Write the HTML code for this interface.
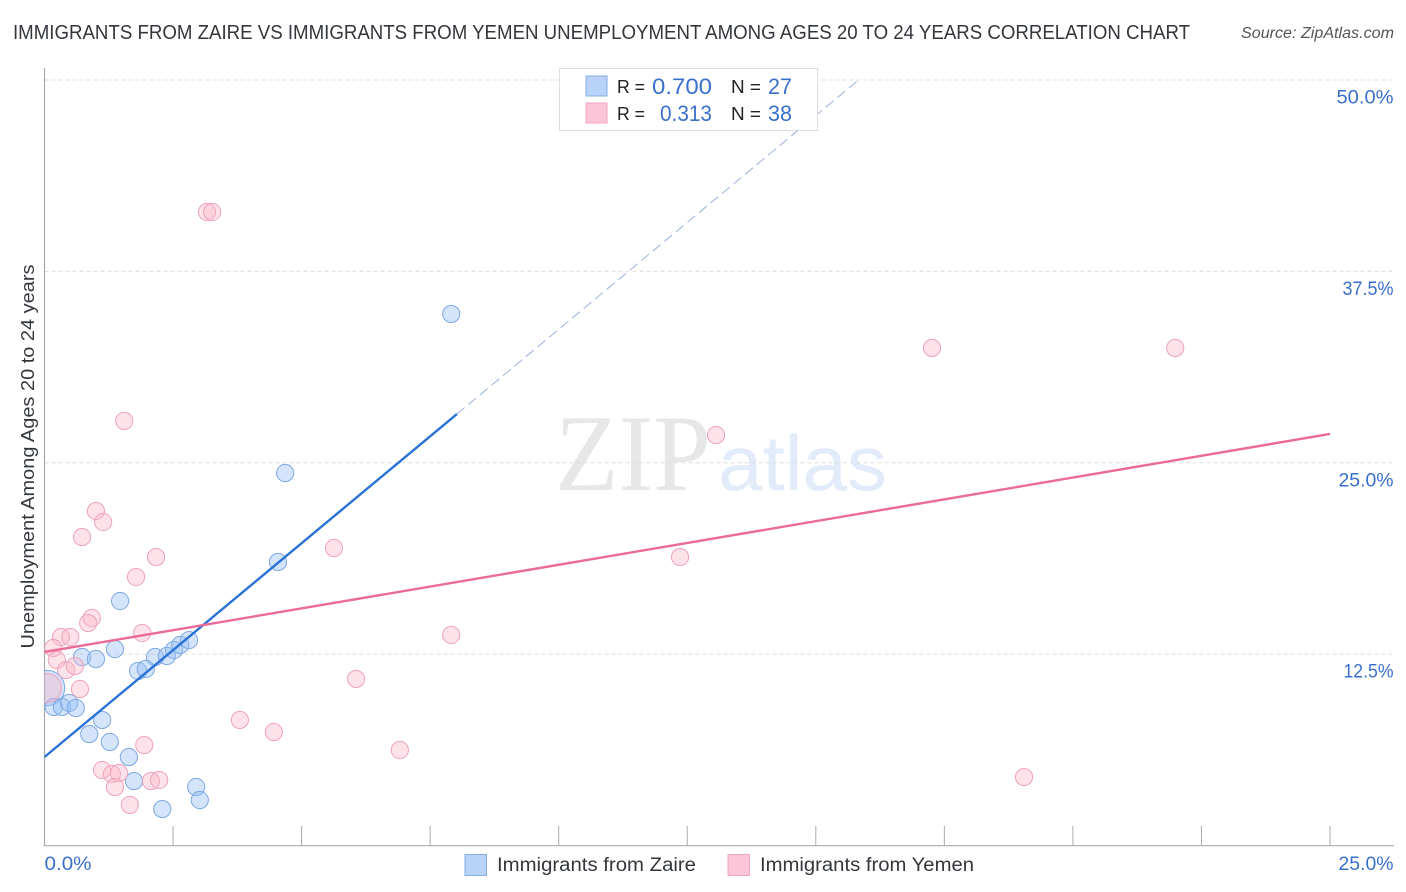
<!DOCTYPE html>
<html lang="en">
<head>
<meta charset="utf-8">
<title>Immigrants from Zaire vs Immigrants from Yemen Correlation Chart</title>
<style>
html,body{margin:0;padding:0;background:#fff;}
svg{display:block;font-family:"Liberation Sans",sans-serif;}
</style>
</head>
<body>
<svg id="chart" xmlns="http://www.w3.org/2000/svg" width="1406" height="892" viewBox="0 0 1406 892">
  <defs>
    <clipPath id="plot-clip"><rect x="44.5" y="68" width="1350" height="778"/></clipPath>
  </defs>
  <rect x="0" y="0" width="1406" height="892" fill="#fff"/>
  <text x="13" y="39" font-size="20" fill="#33373c" textLength="1177" lengthAdjust="spacingAndGlyphs">IMMIGRANTS FROM ZAIRE VS IMMIGRANTS FROM YEMEN UNEMPLOYMENT AMONG AGES 20 TO 24 YEARS CORRELATION CHART</text>
  <text x="1241" y="38" font-size="15.5" font-style="italic" fill="#555" textLength="153" lengthAdjust="spacingAndGlyphs">Source: ZipAtlas.com</text>
  <g>
    <text x="555" y="490" font-family="'Liberation Serif',serif" font-size="109" fill="#e7e7e7" textLength="156" lengthAdjust="spacingAndGlyphs">ZIP</text>
    <text x="718" y="490" font-size="78" fill="#e2ebfa" textLength="169" lengthAdjust="spacingAndGlyphs">atlas</text>
  </g>
  <g id="grid"></g>
  <g id="axes"></g>
  <g id="points-zaire" clip-path="url(#plot-clip)"></g>
  <g id="points-yemen" clip-path="url(#plot-clip)"></g>
  <g id="trends"></g>
  <text transform="translate(34 456.5) rotate(-90)" text-anchor="middle" font-size="18.5" fill="#33373c" textLength="384" lengthAdjust="spacingAndGlyphs">Unemployment Among Ages 20 to 24 years</text>
  <g id="labels"></g>

  <g>
    <rect x="559.5" y="68.5" width="258" height="62" fill="#fff" fill-opacity="0.9" stroke="#dedede"/>
    <rect x="586" y="76" width="21" height="20" fill="#b9d3f8" stroke="#86aee6"/>
    <rect x="586" y="103" width="21" height="20" fill="#fcc6d8" stroke="#f0a6bf"/>
    <text x="617" y="93" font-size="18" fill="#222" textLength="28" lengthAdjust="spacingAndGlyphs">R =</text>
    <text x="652" y="94" font-size="22" fill="#3a70cc" textLength="60" lengthAdjust="spacingAndGlyphs">0.700</text>
    <text x="731" y="93" font-size="18" fill="#222" textLength="30" lengthAdjust="spacingAndGlyphs">N =</text>
    <text x="768" y="94" font-size="22" fill="#3a70cc" textLength="24" lengthAdjust="spacingAndGlyphs">27</text>
    <text x="617" y="120" font-size="18" fill="#222" textLength="28" lengthAdjust="spacingAndGlyphs">R =</text>
    <text x="660" y="121" font-size="22" fill="#3a70cc" textLength="52" lengthAdjust="spacingAndGlyphs">0.313</text>
    <text x="731" y="120" font-size="18" fill="#222" textLength="30" lengthAdjust="spacingAndGlyphs">N =</text>
    <text x="768" y="121" font-size="22" fill="#3a70cc" textLength="24" lengthAdjust="spacingAndGlyphs">38</text>
  </g>

  <g>
    <rect x="465" y="854.5" width="21.5" height="21" fill="#b9d3f8" stroke="#86aee6"/>
    <text x="497" y="871" font-size="19" fill="#33373c" textLength="199" lengthAdjust="spacingAndGlyphs">Immigrants from Zaire</text>
    <rect x="728" y="854.5" width="21.5" height="21" fill="#fcc6d8" stroke="#f0a6bf"/>
    <text x="760" y="871" font-size="19" fill="#33373c" textLength="214" lengthAdjust="spacingAndGlyphs">Immigrants from Yemen</text>
  </g>
</svg>
<script>
const xTickValues = [2.5, 5, 7.5, 10, 12.5, 15, 17.5, 20, 22.5, 25];
const xLabelValues = [0, 25];
const xLabelText = ['0.0%', '25.0%'];
const yTickValues = [12.5, 25, 37.5, 50];
const yLabelText = ['12.5%', '25.0%', '37.5%', '50.0%'];

const zaireX = [0.73, 1.00, 1.37, 1.47, 1.82, 1.97, 2.15, 2.38, 2.52, 2.64, 2.81, 0.05, 0.18, 0.34, 0.48, 0.61, 1.12, 0.87, 1.27, 1.64, 1.74, 2.95, 3.02, 2.29, 7.91, 4.68, 4.54];
const zaireY = [12.31, 12.18, 12.83, 15.97, 11.40, 11.53, 12.31, 12.38, 12.77, 13.10, 13.42, 10.29, 9.05, 9.05, 9.31, 8.98, 8.20, 7.28, 6.76, 5.78, 4.21, 3.82, 2.97, 2.38, 34.72, 24.33, 18.52];
const zaireWeight = [1, 1, 1, 1, 1, 1, 1, 1, 1, 1, 1, 4.2, 1, 1, 1, 1, 1, 1, 1, 1, 1, 1, 1, 1, 1, 1, 1];

const yemenX = [0.92, 0.85, 0.32, 0.50, 1.90, 0.17, 0.24, 0.42, 0.59, 0.69, 0.05, 3.80, 4.46, 1.94, 1.12, 1.31, 1.45, 1.37, 1.66, 2.07, 2.23, 3.16, 3.26, 1.55, 13.06, 17.26, 21.99, 1.00, 1.14, 0.73, 1.78, 2.17, 5.63, 12.36, 7.91, 6.06, 6.91, 19.05];
const yemenY = [14.86, 14.53, 13.62, 13.62, 13.88, 12.90, 12.12, 11.46, 11.72, 10.22, 10.29, 8.20, 7.41, 6.56, 4.93, 4.67, 4.74, 3.82, 2.65, 4.21, 4.28, 41.38, 41.38, 27.73, 26.81, 32.50, 32.50, 21.85, 21.13, 20.15, 17.54, 18.84, 19.43, 18.84, 13.75, 10.88, 6.24, 4.47];
const yemenWeight = [1, 1, 1, 1, 1, 1, 1, 1, 1, 1, 2.8, 1, 1, 1, 1, 1, 1, 1, 1, 1, 1, 1, 1, 1, 1, 1, 1, 1, 1, 1, 1, 1, 1, 1, 1, 1, 1, 1];

const zaireTrendX = [0, 8.02];
const zaireTrendY = [5.78, 28.18];
const zaireProjectionX = [8.02, 15.83];
const zaireProjectionY = [28.18, 50];
const yemenTrendX = [0, 25];
const yemenTrendY = [12.64, 26.88];

const NS = 'http://www.w3.org/2000/svg';
const sx = v => 44.5 + v * 51.42;
const sy = v => 845.5 - v * 15.31;
const radius = w => 8.6 * Math.sqrt(w);
const fittedLabelWidth = {'0.0%': 47, '12.5%': 50, '25.0%': 55, '37.5%': 51, '50.0%': 57};

function make(tag, parentId, attrs) {
  const el = document.createElementNS(NS, tag);
  for (const k in attrs) el.setAttribute(k, attrs[k]);
  document.getElementById(parentId).appendChild(el);
  return el;
}

function fitLabel(el, text) {
  el.textContent = text;
  if (fittedLabelWidth[text]) {
    el.setAttribute('textLength', fittedLabelWidth[text]);
    el.setAttribute('lengthAdjust', 'spacingAndGlyphs');
  }
}

yTickValues.forEach(function (v) {
  const el = make('line', 'grid', {x1: 44.5, x2: 1394, y1: sy(v), y2: sy(v), stroke: '#dedede', 'stroke-width': 1, 'stroke-dasharray': '4 3'});
  
  
});

const leftAxis = make('line', 'axes', {x1: 44.5, x2: 44.5, y1: 68, y2: 846, stroke: '#aaa', 'stroke-width': 1.2});


const bottomAxis = make('line', 'axes', {x1: 44, x2: 1394, y1: 845.7, y2: 845.7, stroke: '#aaa', 'stroke-width': 1.2});



xTickValues.forEach(function (v) {
  const el = make('line', 'axes', {x1: sx(v), x2: sx(v), y1: 826, y2: 846, stroke: '#aaa', 'stroke-width': 1});
  
  
});

zaireX.forEach(function (v, i) {
  const el = make('circle', 'points-zaire', {cx: sx(v), cy: sy(zaireY[i]), r: radius(zaireWeight[i]), fill: 'rgba(150,190,245,0.42)', stroke: '#7ea8e2', 'stroke-width': 1});
  
  
});

yemenX.forEach(function (v, i) {
  const el = make('circle', 'points-yemen', {cx: sx(v), cy: sy(yemenY[i]), r: radius(yemenWeight[i]), fill: 'rgba(250,180,200,0.38)', stroke: '#eea3bb', 'stroke-width': 1});
  
  
});

const zaireProjection = make('line', 'trends', {x1: sx(zaireProjectionX[0]), y1: sy(zaireProjectionY[0]), x2: sx(zaireProjectionX[1]), y2: sy(zaireProjectionY[1]), stroke: '#8fa9d8', 'stroke-width': 0.9, 'stroke-dasharray': '10 5'});


const zaireTrend = make('line', 'trends', {x1: sx(zaireTrendX[0]), y1: sy(zaireTrendY[0]), x2: sx(zaireTrendX[1]), y2: sy(zaireTrendY[1]), stroke: '#2a72d6', 'stroke-width': 2.4});


const yemenTrend = make('line', 'trends', {x1: sx(yemenTrendX[0]), y1: sy(yemenTrendY[0]), x2: sx(yemenTrendX[1]), y2: sy(yemenTrendY[1]), stroke: '#ec6a98', 'stroke-width': 2.4});



yTickValues.forEach(function (v, i) {
  const el = make('text', 'labels', {x: 1393.5, y: sy(v) + 23.5, 'text-anchor': 'end', 'font-size': 19.5, fill: '#3a70cc'});
  fitLabel(el, yLabelText[i]);
  
  
});

xLabelValues.forEach(function (v, i) {
  const el = make('text', 'labels', i === 0
    ? {x: sx(v), y: 870, 'text-anchor': 'start', 'font-size': 19.5, fill: '#3a70cc'}
    : {x: 1393.5, y: 870, 'text-anchor': 'end', 'font-size': 19.5, fill: '#3a70cc'});
  fitLabel(el, xLabelText[i]);
  
  
});
</script>
</body>
</html>
